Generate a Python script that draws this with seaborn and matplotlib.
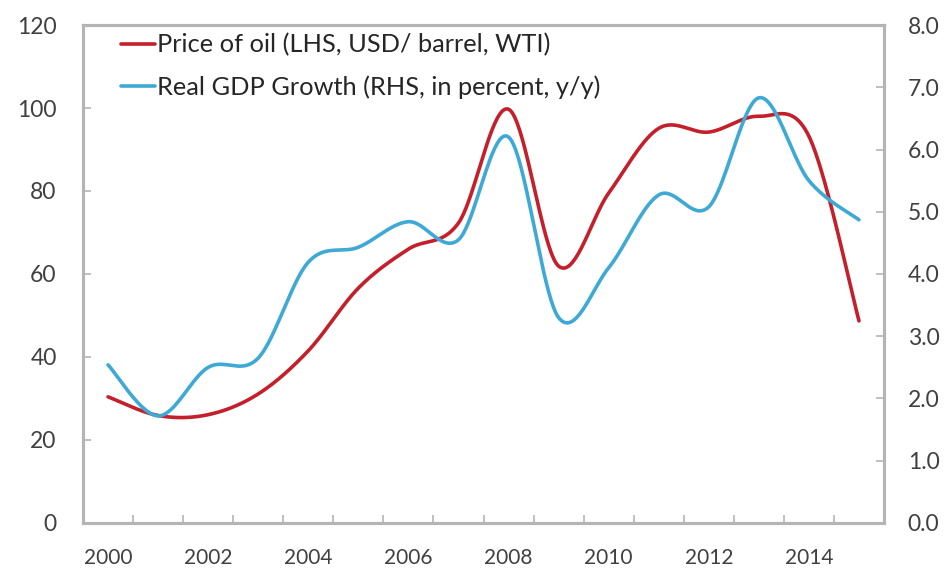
import numpy as np
import pandas as pd
import matplotlib
matplotlib.use("Agg")
import matplotlib.pyplot as plt
import seaborn as sns
from matplotlib.ticker import FixedLocator, NullFormatter

# ---- data ----
years = list(range(2000, 2016))
oil_price = [30.4, 25.9, 26.1, 31.1, 41.5, 56.6, 66.0, 72.3, 99.7, 61.9, 79.5, 95.1, 94.2, 98.0, 93.2, 48.7]
gdp_growth = [2.54, 1.72, 2.50, 2.65, 4.19, 4.43, 4.84, 4.55, 6.20, 3.30, 4.10, 5.27, 5.08, 6.83, 5.50, 4.87]
oil_label = "Price of oil (LHS, USD/ barrel, WTI)"
gdp_label = "Real GDP Growth (RHS, in percent, y/y)"
x_tick_labels = [2000, 2002, 2004, 2006, 2008, 2010, 2012, 2014]
left_ticks = [0, 20, 40, 60, 80, 100, 120]
right_ticks = [0.0, 1.0, 2.0, 3.0, 4.0, 5.0, 6.0, 7.0, 8.0]


def smooth(xs, ys, n=40):
    """Bezier smoothing through the points (like a spreadsheet 'smoothed line')."""
    P = np.column_stack([xs, ys]).astype(float)
    out = []
    m = len(P)
    for i in range(m - 1):
        p0 = P[i - 1] if i > 0 else P[i]
        p1, p2 = P[i], P[i + 1]
        p3 = P[i + 2] if i + 2 < m else P[i + 1]
        c1 = p1 + (p2 - p0) / 6.0
        c2 = p2 - (p3 - p1) / 6.0
        t = np.linspace(0, 1, n, endpoint=(i == m - 2))[:, None]
        seg = ((1 - t) ** 3) * p1 + 3 * ((1 - t) ** 2) * t * c1 + 3 * (1 - t) * t ** 2 * c2 + t ** 3 * p2
        out.append(seg)
    out = np.vstack(out)
    return out[:, 0], out[:, 1]


sns.set_theme(style="white")
plt.rcParams["font.family"] = ["Lato", "DejaVu Sans"]

fig = plt.figure(figsize=(9.52, 5.71), dpi=100)
ax = fig.add_axes([0.0872, 0.0841, 0.8414, 0.8721])
ax2 = ax.twinx()

red = "#C4202B"
blue = "#3FA9D5"

ox, oy = smooth(years, oil_price)
gx, gy = smooth(years, gdp_growth)
df_oil = pd.DataFrame({"year": ox, "value": oy})
df_gdp = pd.DataFrame({"year": gx, "value": gy})

sns.lineplot(data=df_oil, x="year", y="value", ax=ax, color=red, linewidth=2.6,
             sort=False, estimator=None, label=oil_label, legend=False)
sns.lineplot(data=df_gdp, x="year", y="value", ax=ax2, color=blue, linewidth=2.6,
             sort=False, estimator=None, label=gdp_label, legend=False)

ax.set_xlim(1999.5, 2015.5)
ax.set_ylim(0, 120)
ax2.set_ylim(0, 8)
ax.set_xlabel("")
ax.set_ylabel("")
ax2.set_ylabel("")

spine_col = "#B4B4B4"
tick_col = "#404040"
for a in (ax, ax2):
    for s in a.spines.values():
        s.set_visible(True)
        s.set_color(spine_col)
        s.set_linewidth(2.2)

ax.set_yticks(left_ticks)
ax.set_yticklabels([str(v) for v in left_ticks])
ax2.set_yticks(right_ticks)
ax2.set_yticklabels([f"{v:.1f}" for v in right_ticks])

ax.set_xticks(x_tick_labels)
ax.set_xticklabels([str(v) for v in x_tick_labels])
ax.xaxis.set_minor_locator(FixedLocator([y + 0.5 for y in years[:-1]]))
ax.xaxis.set_minor_formatter(NullFormatter())

ax.tick_params(axis="x", which="major", length=0, pad=18, labelsize=15, labelcolor=tick_col)
ax.tick_params(axis="x", which="minor", direction="in", length=6, width=1.2, color=spine_col, bottom=True)
ax.tick_params(axis="y", which="major", direction="in", length=6, width=1.2, color=spine_col,
               pad=19, labelsize=16.5, labelcolor=tick_col, left=True)
ax2.tick_params(axis="y", which="major", direction="in", length=6, width=1.2, color=spine_col,
                pad=17, labelsize=16.5, labelcolor=tick_col, right=True)
ax.grid(False)
ax2.grid(False)

h1, l1 = ax.get_legend_handles_labels()
h2, l2 = ax2.get_legend_handles_labels()
leg = ax2.legend(h1 + h2, l1 + l2, loc="upper left", bbox_to_anchor=(0.048, 0.983),
                 frameon=False, fontsize=18.3, handlelength=1.3, handletextpad=0.08,
                 labelspacing=0.72, borderpad=0, borderaxespad=0)
for t in leg.get_texts():
    t.set_color("#262626")

fig.savefig("out.png", dpi=100, facecolor="white")
